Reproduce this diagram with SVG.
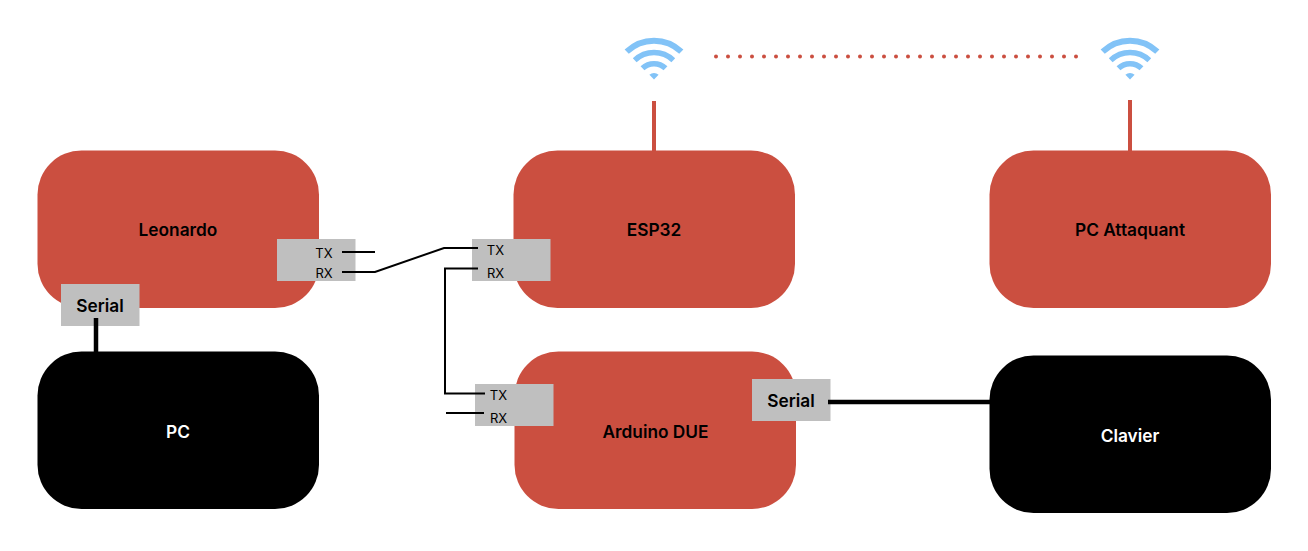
<svg xmlns="http://www.w3.org/2000/svg" width="1308" height="551" viewBox="0 0 1308 551">
<style>
.red{fill:#cb4f40}
.blk{fill:#000}
.gr{fill:#bfbfbf}
text{font-family:"Inter","Liberation Sans",sans-serif;text-anchor:middle}
.n{font-size:17.300px;font-weight:600;fill:#000}
.w{font-size:17.300px;font-weight:600;fill:#fff}
.s{font-size:17.300px;font-weight:600;fill:#000}
.p{font-size:13px;fill:#000}
.thin{fill:none;stroke:#000;stroke-width:2}
.thick{fill:none;stroke:#000;stroke-width:4.500}
.ant{fill:none;stroke:#cb4f40;stroke-width:4}
.arc{fill:none;stroke:#82c3f7}
</style>
<defs>
<g id="wifi">
<path class="arc" stroke-width="6" d="M-27.300-28.300A39.300 39.300 0 0 1 27.300-28.300"/>
<path class="arc" stroke-width="5.500" d="M-19.300-19.800A28 28 0 0 1 19.300-19.800"/>
<path class="arc" stroke-width="5.500" d="M-11.500-11.700A16.500 16.500 0 0 1 11.500-11.700"/>
<path fill="#82c3f7" d="M0-.5L-4.600-5.200A7 7 0 0 1 4.600-5.200Z"/>
</g>
</defs>
<g id="connectors">
<path class="ant" d="M654 101V152"/>
<path class="ant" d="M1130 100V152"/>
<path fill="none" stroke="#cb4f40" stroke-width="4" stroke-linecap="round" stroke-dasharray="0 12" d="M716 56.500H1078"/>
</g>
<g id="wifi-left"><use href="#wifi" x="654" y="80"/></g>
<g id="wifi-right"><use href="#wifi" x="1130" y="80"/></g>
<g id="leonardo"><rect class="red" x="37.500" y="150.500" width="281.500" height="157.500" rx="44"/><text class="n" x="178" y="236">Leonardo</text></g>
<g id="esp32"><rect class="red" x="513.500" y="150.500" width="281.500" height="157.500" rx="44"/><text class="n" x="654" y="236">ESP32</text></g>
<g id="pc-attaquant"><rect class="red" x="989.500" y="150.500" width="281.500" height="157.500" rx="44"/><text class="n" x="1130" y="236">PC Attaquant</text></g>
<g id="pc"><rect class="blk" x="37.500" y="351.500" width="281.500" height="157.500" rx="44"/><text class="w" x="178" y="438">PC</text></g>
<g id="arduino-due"><rect class="red" x="514.500" y="351.500" width="281.500" height="157.500" rx="44"/><text class="n" x="655.500" y="438">Arduino DUE</text></g>
<g id="clavier"><rect class="blk" x="989.500" y="355.500" width="281.500" height="157.500" rx="44"/><text class="w" x="1130" y="442">Clavier</text></g>
<g id="leonardo-pins"><rect class="gr" x="277" y="239" width="78.500" height="42"/><text class="p" x="324" y="258">TX</text><text class="p" x="324" y="278">RX</text></g>
<g id="esp32-pins"><rect class="gr" x="472" y="239" width="78.500" height="42"/><text class="p" x="495.500" y="255">TX</text><text class="p" x="495.500" y="278">RX</text></g>
<g id="due-pins"><rect class="gr" x="475" y="384" width="78.500" height="42"/><text class="p" x="498.500" y="400">TX</text><text class="p" x="498.500" y="423">RX</text></g>
<g id="leonardo-serial"><rect class="gr" x="61" y="284" width="78.500" height="42"/><text class="s" x="100" y="312">Serial</text></g>
<g id="due-serial"><rect class="gr" x="752" y="379" width="78.500" height="42"/><text class="s" x="791" y="407">Serial</text></g>
<g id="wires">
<path class="thin" d="M342 252H375"/>
<path class="thin" d="M342 272H375L444 248H478"/>
<path class="thin" d="M478 268.500H445V393.500H485"/>
<path class="thin" d="M446 413H484"/>
<path class="thick" d="M96 318V352"/>
<path class="thick" d="M828 402H990"/>
</g>
</svg>
